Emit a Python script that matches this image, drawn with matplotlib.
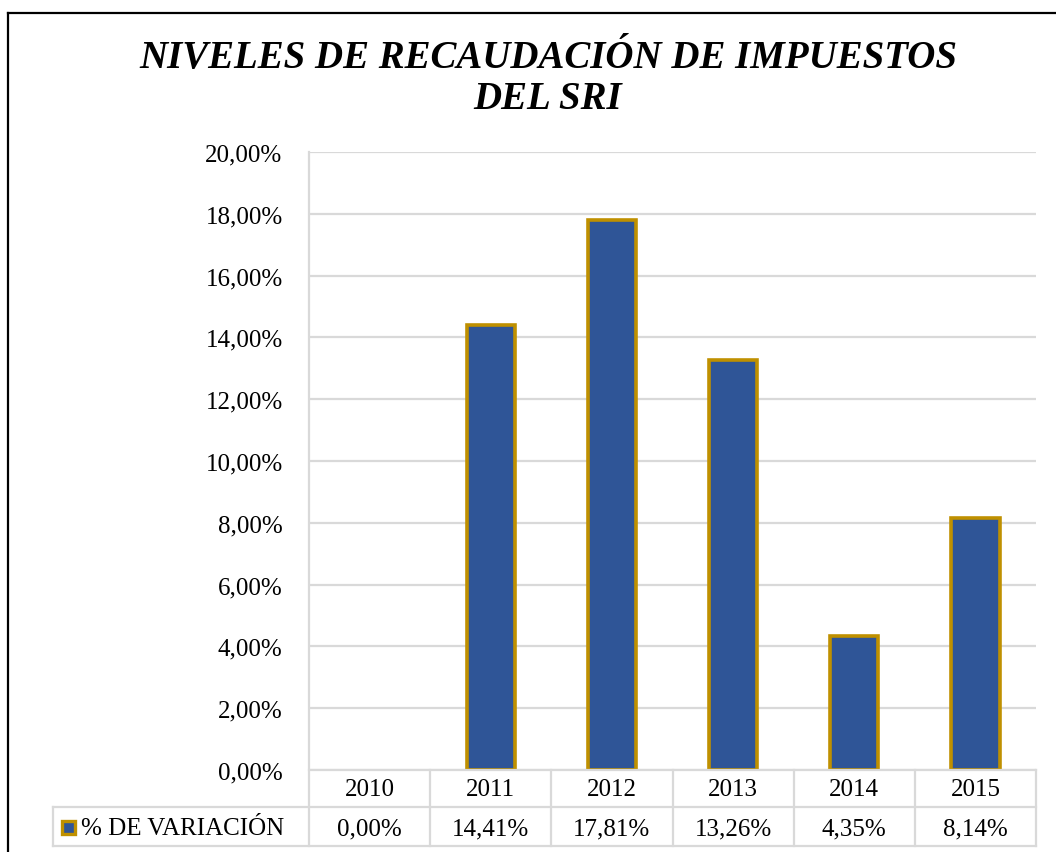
"""
Recaudación de impuestos del SRI: % de variación anual, con tabla de datos debajo.
"""
import matplotlib.pyplot as plt
from matplotlib.lines import Line2D
from matplotlib.patches import Rectangle
from matplotlib.ticker import FuncFormatter
from matplotlib.transforms import blended_transform_factory

years = ["2010", "2011", "2012", "2013", "2014", "2015"]
variacion = [0.0, 0.1441, 0.1781, 0.1326, 0.0435, 0.0814]
series_label = "% DE VARIACIÓN"
title = "NIVELES DE RECAUDACIÓN DE IMPUESTOS\nDEL SRI"

BAR_FILL = "#2F5597"
BAR_EDGE = "#BF9000"
GRID = "#D9D9D9"
FONT = "Liberation Serif"

W, H = 1056, 853


def fx(px):
    return px / W


def fy(py):
    return 1 - py / H


def pct(v, _pos=None):
    return f"{v * 100:.2f}%".replace(".", ",")


plt.rcParams["font.family"] = [FONT, "DejaVu Serif"]

fig = plt.figure(figsize=(W / 100, H / 100), dpi=100)
ax = fig.add_axes([fx(309), fy(771), fx(1036) - fx(309), fy(153) - fy(771)])

x = list(range(len(years)))
lws = [2.6 if v > 0 else 0 for v in variacion]
ax.bar(x, variacion, width=0.4, color=BAR_FILL, edgecolor=BAR_EDGE,
       linewidth=lws, zorder=3)

ax.set_xlim(-0.5, len(years) - 0.5)
ax.set_ylim(0, 0.20)
ax.set_yticks([i * 0.02 for i in range(11)])
ax.yaxis.set_major_formatter(FuncFormatter(pct))
ax.tick_params(axis="y", length=0, pad=19, labelsize=18)
ax.set_xticks([])
ax.grid(axis="y", color=GRID, lw=1.6, zorder=0)
for s in ax.spines.values():
    s.set_visible(False)

# tabla de datos bajo el eje
tr = blended_transform_factory(ax.transData, fig.transFigure)
y_top, y_mid, y_bot = fy(771), fy(808), fy(847)
tbl_kw = dict(color=GRID, lw=1.6, transform=fig.transFigure, clip_on=False)
# líneas horizontales
fig.add_artist(Line2D([fx(309), fx(1036)], [y_top, y_top], **tbl_kw))
fig.add_artist(Line2D([fx(53), fx(1036)], [y_mid, y_mid], **tbl_kw))
fig.add_artist(Line2D([fx(53), fx(1036)], [y_bot, y_bot], **tbl_kw))
# líneas verticales
fig.add_artist(Line2D([fx(309), fx(309)], [fy(153), y_bot], **tbl_kw))
fig.add_artist(Line2D([fx(53), fx(53)], [y_mid, y_bot], **tbl_kw))
for i in range(1, len(years) + 1):
    xb = ax.transData.transform((i - 0.5, 0))[0] / W
    fig.add_artist(Line2D([xb, xb], [y_top, y_bot], **tbl_kw))

for i, (yr, v) in enumerate(zip(years, variacion)):
    ax.text(i, fy(790), yr, transform=tr, ha="center", va="center",
            fontsize=18, clip_on=False)
    ax.text(i, fy(829), pct(v), transform=tr, ha="center", va="center",
            fontsize=18, clip_on=False)

# clave de leyenda
fig.add_artist(Rectangle((fx(62), fy(835)), fx(13), fy(822) - fy(835),
                         facecolor=BAR_FILL, edgecolor=BAR_EDGE, lw=2.4,
                         transform=fig.transFigure))
fig.text(fx(81), fy(829), series_label, ha="left", va="center", fontsize=18)

fig.text(fx(548), fy(79), title, ha="center", va="center", fontsize=28,
         fontweight="bold", fontstyle="italic", linespacing=1.15)

# marco exterior (solo visible arriba y a la izquierda)
frame_kw = dict(color="black", lw=1.6, transform=fig.transFigure)
fig.add_artist(Line2D([fx(8), 1.0], [fy(14), fy(14)], **frame_kw))
fig.add_artist(Line2D([fx(8), fx(8)], [fy(14), 0.0], **frame_kw))

fig.savefig("out.png", dpi=100)
